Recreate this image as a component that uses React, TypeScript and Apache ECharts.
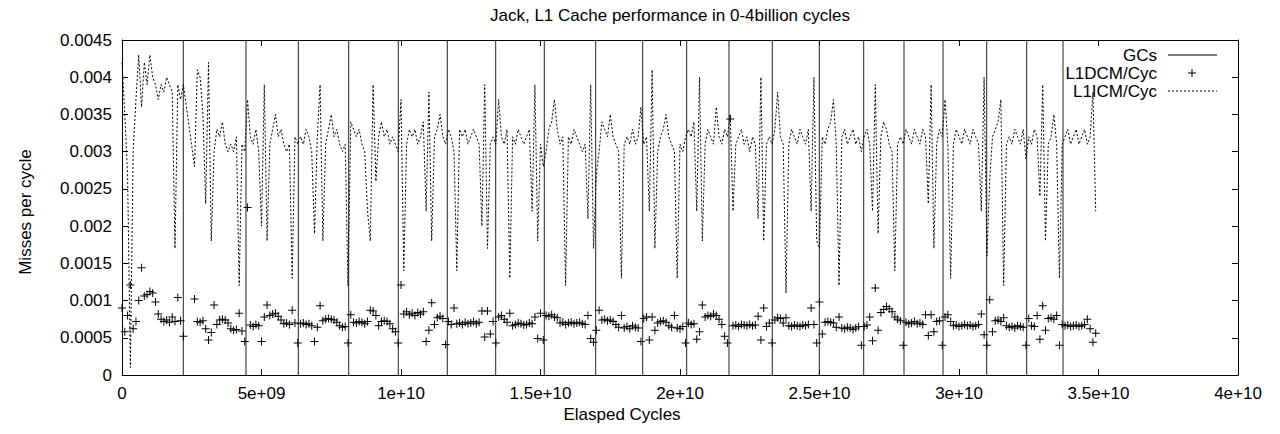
import React, { useEffect, useRef } from 'react';
import * as echarts from 'echarts';

// ---- axes ----
const X_MIN = 0;
const X_MAX = 4e10;
const X_INTERVAL = 5e9;
const Y_MIN = 0;
const Y_MAX = 0.0045;
const Y_INTERVAL = 0.0005;
const X_TICK_LABELS = ['0', '5e+09', '1e+10', '1.5e+10', '2e+10', '2.5e+10', '3e+10', '3.5e+10', '4e+10'];
const Y_TICK_LABELS = ['0', '0.0005', '0.001', '0.0015', '0.002', '0.0025', '0.003', '0.0035', '0.004', '0.0045'];

// ---- sampling of the counters (elapsed cycles) ----
const SAMPLE_START = 0;
const SAMPLE_STEP = 1e8;

// ---- GC events (elapsed cycles) ----
const GC_X = [
  2.197e9, 4.444e9, 6.319e9, 8.125e9, 9.903e9, 1.1659e10, 1.3394e10, 1.5136e10, 1.6978e10, 1.8663e10,
  2.024e10, 2.1756e10, 2.3308e10, 2.4993e10, 2.6584e10, 2.8029e10, 2.9427e10, 3.0993e10, 3.2427e10, 3.3728e10,
];

// ---- L1 instruction cache misses per cycle ----
const L1ICM = [
  0.0042, 0.0035, 0.0027, 0.0001, 0.0030, 0.0037, 0.0043, 0.0036, 0.0042, 0.0039, 0.0043, 0.0040, 0.0039, 0.0037, 0.0039, 0.0038, 0.0040, 0.0039, 0.0038, 0.0017, 0.0039, 0.0037,
  0.0039, null, null, null, 0.0028, 0.0041, 0.0040, 0.0035, 0.0023, 0.0042, 0.0018, 0.0030, 0.0033, 0.0032, 0.0034, 0.0031, 0.0030, 0.0031, 0.0030, 0.0032, 0.0012, 0.0031, 0.0030,
  0.0037, 0.0032, 0.0031, 0.0033, 0.0030, 0.0020, 0.0039, 0.0018, 0.0031, 0.0033, 0.0035, 0.0032, 0.0033, 0.0031, 0.0030, 0.0031, 0.0013, 0.0032, 0.0031,
  0.0032, 0.0031, 0.0033, 0.0032, 0.0030, 0.0019, 0.0032, 0.0039, 0.0018, 0.0031, 0.0033, 0.0035, 0.0032, 0.0033, 0.0031, 0.0030, 0.0031, 0.0012,
  0.0034, 0.0033, 0.0032, 0.0033, 0.0031, 0.0030, 0.0022, 0.0018, 0.0039, 0.0026, 0.0032, 0.0034, 0.0032, 0.0033, 0.0031, 0.0032, 0.0031, 0.0030,
  0.0037, 0.0014, 0.0031, 0.0033, 0.0032, 0.0033, 0.0031, 0.0032, 0.0034, 0.0022, 0.0038, 0.0018, 0.0032, 0.0033, 0.0035, 0.0032, 0.0031,
  0.0033, 0.0032, 0.0030, 0.0014, 0.0033, 0.0032, 0.0033, 0.0031, 0.0032, 0.0033, 0.0032, 0.0031, 0.0020, 0.0039, 0.0017, 0.0031, 0.0032, 0.0031,
  0.0037, 0.0032, 0.0031, 0.0033, 0.0013, 0.0032, 0.0031, 0.0033, 0.0032, 0.0031, 0.0032, 0.0033, 0.0022, 0.0039, 0.0018, 0.0031, 0.0028,
  0.0030, 0.0033, 0.0034, 0.0037, 0.0033, 0.0031, 0.0032, 0.0012, 0.0032, 0.0031, 0.0033, 0.0032, 0.0031, 0.0030, 0.0031, 0.0021, 0.0039, 0.0017,
  0.0027, 0.0030, 0.0034, 0.0033, 0.0032, 0.0035, 0.0032, 0.0031, 0.0030, 0.0013, 0.0031, 0.0032, 0.0031, 0.0033, 0.0031, 0.0032, 0.0036,
  0.0031, 0.0032, 0.0022, 0.0041, 0.0017, 0.0030, 0.0032, 0.0033, 0.0035, 0.0032, 0.0031, 0.0030, 0.0013, 0.0031, 0.0030, 0.0032,
  0.0033, 0.0032, 0.0034, 0.0022, 0.0040, 0.0018, 0.0031, 0.0033, 0.0032, 0.0031, 0.0036, 0.0032, 0.0031, 0.0033, 0.0032,
  0.0035, 0.0022, 0.0031, 0.0032, 0.0033, 0.0031, 0.0032, 0.0030, 0.0032, 0.0031, 0.0021, 0.0040, 0.0018, 0.0031, 0.0032, 0.0031,
  0.0033, 0.0038, 0.0032, 0.0031, 0.0011, 0.0031, 0.0033, 0.0032, 0.0031, 0.0033, 0.0032, 0.0031, 0.0033, 0.0022, 0.0040, 0.0018,
  0.0017, 0.0032, 0.0031, 0.0033, 0.0034, 0.0037, 0.0031, 0.0012, 0.0032, 0.0033, 0.0031, 0.0032, 0.0033, 0.0031, 0.0032, 0.0030,
  0.0032, 0.0033, 0.0031, 0.0022, 0.0039, 0.0019, 0.0032, 0.0034, 0.0033, 0.0031, 0.0030, 0.0014, 0.0031, 0.0032, 0.0031,
  0.0033, 0.0032, 0.0031, 0.0033, 0.0032, 0.0031, 0.0033, 0.0032, 0.0023, 0.0039, 0.0017, 0.0031, 0.0033, 0.0032,
  0.0037, 0.0031, 0.0013, 0.0031, 0.0033, 0.0032, 0.0031, 0.0033, 0.0032, 0.0031, 0.0033, 0.0032, 0.0031, 0.0022, 0.0040, 0.0016,
  0.0026, 0.0032, 0.0033, 0.0034, 0.0037, 0.0012, 0.0031, 0.0032, 0.0031, 0.0033, 0.0032, 0.0031, 0.0033, 0.0029,
  0.0032, 0.0031, 0.0033, 0.0032, 0.0024, 0.0039, 0.0018, 0.0031, 0.0032, 0.0035, 0.0031, 0.0013,
  0.0031, 0.0032, 0.0033, 0.0031, 0.0032, 0.0033, 0.0031, 0.0032, 0.0033, 0.0031, 0.0032, 0.0038, 0.0022,
];

// ---- L1 data cache misses per cycle ----
const L1DCM = [
  0.00090, 0.00058, 0.00080, 0.00121, 0.00062, 0.00072, 0.00100, 0.00144, 0.00106, 0.00108, 0.00112, 0.00110, 0.00098, 0.00082, 0.00075, 0.00072, 0.00074, 0.00071, 0.00078, 0.00072, 0.00104, 0.00073,
  0.00052, null, null, null, 0.00102, 0.00072, 0.00071, 0.00073, 0.00062, 0.00047, 0.00057, 0.00094, 0.00068, 0.00074, 0.00075, 0.00074, 0.00070, 0.00062, 0.00060, 0.00061, 0.00083, 0.00059, 0.00045,
  0.00225, 0.00067, 0.00065, 0.00068, 0.00066, 0.00045, 0.00078, 0.00094, 0.00080, 0.00082, 0.00083, 0.00079, 0.00074, 0.00069, 0.00070, 0.00068, 0.00087, 0.00070, 0.00043,
  0.00069, 0.00070, 0.00068, 0.00069, 0.00066, 0.00045, 0.00064, 0.00093, 0.00073, 0.00075, 0.00076, 0.00075, 0.00074, 0.00071, 0.00066, 0.00064, 0.00065, 0.00043,
  0.00081, 0.00071, 0.00070, 0.00072, 0.00071, 0.00069, 0.00072, 0.00087, 0.00086, 0.00080, 0.00066, 0.00072, 0.00073, 0.00072, 0.00069, 0.00062, 0.00058, 0.00043,
  0.00121, 0.00082, 0.00085, 0.00081, 0.00083, 0.00080, 0.00084, 0.00082, 0.00085, 0.00045, 0.00060, 0.00097, 0.00068, 0.00077, 0.00079, 0.00076, 0.00041,
  0.00072, 0.00068, 0.00090, 0.00069, 0.00070, 0.00068, 0.00071, 0.00069, 0.00070, 0.00072, 0.00069, 0.00071, 0.00086, 0.00051, 0.00086, 0.00055, 0.00072, 0.00043,
  0.00078, 0.00080, 0.00075, 0.00071, 0.00083, 0.00066, 0.00068, 0.00070, 0.00069, 0.00067, 0.00068, 0.00070, 0.00069, 0.00078, 0.00049, 0.00083, 0.00047,
  0.00080, 0.00079, 0.00081, 0.00078, 0.00077, 0.00070, 0.00071, 0.00068, 0.00070, 0.00071, 0.00069, 0.00070, 0.00071, 0.00069, 0.00068, 0.00080, 0.00049, 0.00044,
  0.00060, 0.00087, 0.00074, 0.00075, 0.00073, 0.00074, 0.00072, 0.00068, 0.00064, 0.00080, 0.00063, 0.00065, 0.00062, 0.00066, 0.00064, 0.00063, 0.00045,
  0.00076, 0.00078, 0.00047, 0.00078, 0.00060, 0.00070, 0.00072, 0.00073, 0.00071, 0.00066, 0.00064, 0.00080, 0.00063, 0.00062, 0.00065, 0.00043,
  0.00070, 0.00068, 0.00069, 0.00048, 0.00058, 0.00094, 0.00078, 0.00080, 0.00079, 0.00082, 0.00080, 0.00075, 0.00068, 0.00052, 0.00043,
  0.00344, 0.00066, 0.00067, 0.00065, 0.00068, 0.00067, 0.00066, 0.00068, 0.00066, 0.00067, 0.00079, 0.00047, 0.00090, 0.00065, 0.00070, 0.00043,
  0.00074, 0.00077, 0.00076, 0.00070, 0.00077, 0.00066, 0.00065, 0.00067, 0.00066, 0.00065, 0.00067, 0.00066, 0.00068, 0.00090, 0.00068, 0.00043,
  0.00098, 0.00055, 0.00071, 0.00072, 0.00071, 0.00070, 0.00064, 0.00078, 0.00063, 0.00062, 0.00064, 0.00063, 0.00061, 0.00063, 0.00065, 0.00040,
  0.00065, 0.00067, 0.00078, 0.00046, 0.00117, 0.00060, 0.00084, 0.00088, 0.00092, 0.00089, 0.00085, 0.00078, 0.00075, 0.00073, 0.00040,
  0.00071, 0.00069, 0.00070, 0.00072, 0.00069, 0.00070, 0.00068, 0.00081, 0.00053, 0.00081, 0.00058, 0.00072, 0.00073, 0.00040,
  0.00078, 0.00081, 0.00072, 0.00066, 0.00067, 0.00065, 0.00066, 0.00068, 0.00066, 0.00067, 0.00065, 0.00066, 0.00068, 0.00082, 0.00054, 0.00040,
  0.00101, 0.00058, 0.00073, 0.00074, 0.00072, 0.00077, 0.00066, 0.00064, 0.00065, 0.00063, 0.00066, 0.00065, 0.00064, 0.00040,
  0.00076, 0.00066, 0.00065, 0.00080, 0.00048, 0.00093, 0.00060, 0.00076, 0.00077, 0.00075, 0.00080, 0.00040,
  0.00068, 0.00066, 0.00067, 0.00065, 0.00066, 0.00067, 0.00065, 0.00066, 0.00068, 0.00075, 0.00062, 0.00044, 0.00056,
];

const TITLE = 'Jack, L1 Cache performance in 0-4billion cycles';
const X_NAME = 'Elasped Cycles';
const Y_NAME = 'Misses per cycle';
const SERIES_NAMES = ['GCs', 'L1DCM/Cyc', 'L1ICM/Cyc'];

const FONT = '"Liberation Sans", Arial, Helvetica, sans-serif';
const FS = 17;
const PLUS = 'path://M3.5,0L4.5,0L4.5,8L3.5,8Z M0,3.5L8,3.5L8,4.5L0,4.5Z';

export default function App() {
  const ref = useRef<HTMLDivElement>(null);
  useEffect(() => {
    if (!ref.current) return;
    const chart = echarts.init(ref.current, null, { renderer: 'svg' });
    const icmData = L1ICM.map((v, i) => [SAMPLE_START + i * SAMPLE_STEP, v]);
    const dcmData = L1DCM.map((v, i) => [SAMPLE_START + i * SAMPLE_STEP, v]).filter((d) => d[1] !== null);
    const gcData = GC_X.map((x) => [x, Y_MIN]);

    const tickStyle = { color: '#000', width: 1 };
    const baseX = {
      type: 'value', min: X_MIN, max: X_MAX, interval: X_INTERVAL,
      axisLine: { show: true, onZero: false, lineStyle: tickStyle },
      axisTick: { show: true, inside: true, length: 6, lineStyle: tickStyle },
      splitLine: { show: false },
    };
    const baseY = {
      type: 'value', min: Y_MIN, max: Y_MAX, interval: Y_INTERVAL,
      axisLine: { show: true, onZero: false, lineStyle: tickStyle },
      axisTick: { show: true, inside: true, length: 6, lineStyle: tickStyle },
      splitLine: { show: false },
    };
    const textStyle = (text: string, align: string) => ({
      text, fill: '#000', font: `${FS}px ${FONT}`, fontSize: FS, fontFamily: FONT,
      textAlign: align, textVerticalAlign: 'middle', align, verticalAlign: 'middle',
    });

    chart.setOption({
      animation: false,
      backgroundColor: '#fff',
      grid: { left: 122, right: 42, top: 40, bottom: 59, containLabel: false },
      xAxis: [
        {
          ...baseX, position: 'bottom',
          axisLabel: {
            color: '#000', fontSize: FS, fontFamily: FONT, margin: 10,
            formatter: (v: number) => X_TICK_LABELS[Math.round((v - X_MIN) / X_INTERVAL)] ?? '',
          },
        },
        { ...baseX, position: 'top', axisLabel: { show: false } },
      ],
      yAxis: [
        {
          ...baseY, position: 'left',
          axisLabel: {
            color: '#000', fontSize: FS, fontFamily: FONT, margin: 10,
            formatter: (v: number) => Y_TICK_LABELS[Math.round((v - Y_MIN) / Y_INTERVAL)] ?? '',
          },
        },
        { ...baseY, position: 'right', axisLabel: { show: false } },
      ],
      series: [
        {
          type: 'custom', name: SERIES_NAMES[0], data: gcData, encode: { x: 0, y: 1 },
          xAxisIndex: 0, yAxisIndex: 0, silent: true, z: 1,
          renderItem: (_params: any, api: any) => {
            const x = api.value(0);
            const p0 = api.coord([x, Y_MIN]);
            const p1 = api.coord([x, Y_MAX]);
            return {
              type: 'line',
              shape: { x1: p0[0], y1: p0[1], x2: p1[0], y2: p1[1] },
              style: { stroke: '#222', lineWidth: 1 },
            };
          },
        },
        {
          type: 'scatter', name: SERIES_NAMES[1], data: dcmData, xAxisIndex: 0, yAxisIndex: 0,
          symbol: PLUS, symbolSize: 8, itemStyle: { color: '#000', opacity: 1 }, silent: true, z: 2,
        },
        {
          type: 'line', name: SERIES_NAMES[2], data: icmData, xAxisIndex: 0, yAxisIndex: 0,
          showSymbol: false, symbol: 'none', connectNulls: true, silent: true, z: 3,
          lineStyle: { color: '#000', width: 1, type: [2, 2] },
        },
      ],
      graphic: [
        { type: 'text', x: 670, y: 15, style: textStyle(TITLE, 'center') },
        { type: 'text', x: 622, y: 414, style: textStyle(X_NAME, 'center') },
        { type: 'text', x: 25, y: 212, rotation: Math.PI / 2, style: textStyle(Y_NAME, 'center') },
        { type: 'text', x: 1157, y: 55, style: textStyle(SERIES_NAMES[0], 'right') },
        { type: 'text', x: 1157, y: 73, style: textStyle(SERIES_NAMES[1], 'right') },
        { type: 'text', x: 1157, y: 91, style: textStyle(SERIES_NAMES[2], 'right') },
        { type: 'line', shape: { x1: 1168, y1: 55, x2: 1217, y2: 55 }, style: { stroke: '#000', lineWidth: 1 } },
        { type: 'line', shape: { x1: 1188, y1: 73, x2: 1196, y2: 73 }, style: { stroke: '#000', lineWidth: 1 } },
        { type: 'line', shape: { x1: 1192, y1: 69, x2: 1192, y2: 77 }, style: { stroke: '#000', lineWidth: 1 } },
        { type: 'line', shape: { x1: 1168, y1: 91, x2: 1217, y2: 91 }, style: { stroke: '#000', lineWidth: 1, lineDash: [2, 2] } },
      ],
    });
    return () => chart.dispose();
  }, []);
  return (
    <div
      ref={ref}
      style={{ position: 'fixed', left: 0, top: 0, width: 1280, height: 434, background: '#fff' }}
    />
  );
}
